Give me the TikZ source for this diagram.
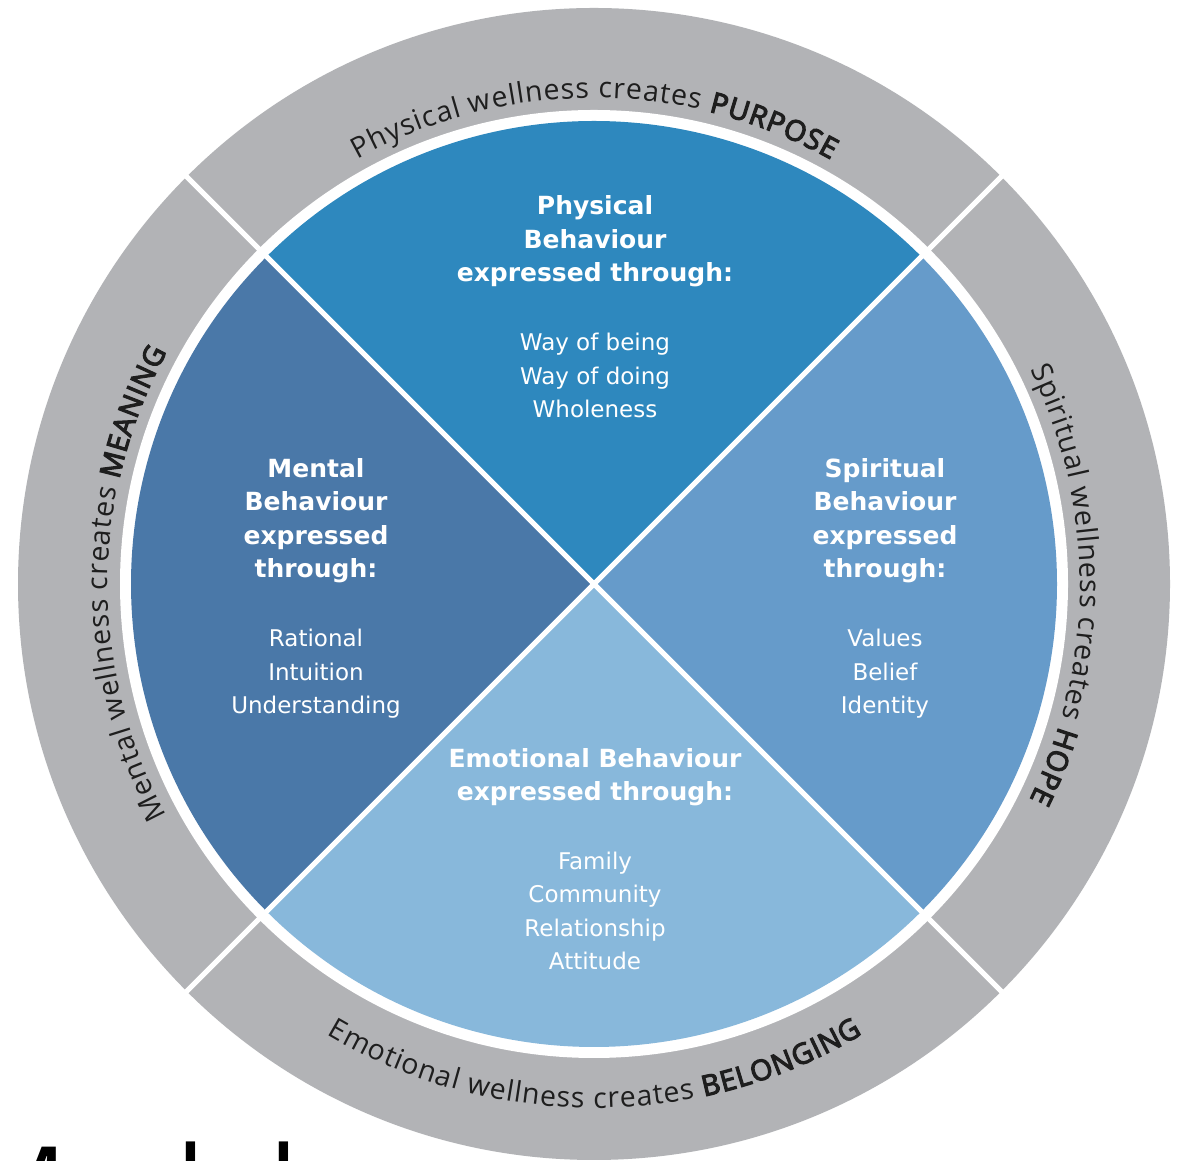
\documentclass[tikz,border=0pt]{standalone}
\usepackage{fontspec}
\setmainfont{Open Sans}
\newfontfamily\ringfont{Open Sans}
\newfontfamily\ringsemi[FakeBold=4]{Open Sans}
\newfontfamily\quadfont{DejaVu Sans}
\usetikzlibrary{decorations.text}
\definecolor{ringgrey}{HTML}{B2B3B6}
\definecolor{qtop}{HTML}{2E88BE}
\definecolor{qleft}{HTML}{4A78A8}
\definecolor{qright}{HTML}{669BCA}
\definecolor{qbottom}{HTML}{88B8DB}
\definecolor{ringtxt}{HTML}{1E1E1E}
\newcommand\ringreg{\ringfont\fontsize{28.5}{30}\selectfont\color{ringtxt}\kern0.9pt}
\newcommand\ringbold{\ringsemi\fontsize{28.5}{30}\selectfont\color{ringtxt}\kern0.9pt}
\begin{document}
\begin{tikzpicture}[x=1pt,y=1pt,
  titletext/.style={text=white, align=center, font=\quadfont\bfseries\fontsize{25}{33.6}\selectfont, anchor=base, inner sep=0pt},
  itemtext/.style={text=white, align=center, font=\quadfont\fontsize{23}{33.6}\selectfont, anchor=base, inner sep=0pt},
  sepline/.style={draw=white, line width=5pt},
  ringlabel/.style={decorate, decoration={text along path, text align=center, text={#1}}}
]
\useasboundingbox (0,0) rectangle (1183,1161);
\clip (0,0) rectangle (1183,1161);
\fill[white] (0,0) rectangle (1183,1161);
\coordinate (c) at (594,577);
% ring and disc
\fill[ringgrey] (c) circle[radius=576];
\fill[white] (c) circle[radius=474];
\fill[qtop] (c) -- ([shift={(45:463)}]c) arc[start angle=45, end angle=135, radius=463] -- cycle;
\fill[qleft] (c) -- ([shift={(135:463)}]c) arc[start angle=135, end angle=225, radius=463] -- cycle;
\fill[qbottom] (c) -- ([shift={(225:463)}]c) arc[start angle=225, end angle=315, radius=463] -- cycle;
\fill[qright] (c) -- ([shift={(315:463)}]c) arc[start angle=315, end angle=405, radius=463] -- cycle;
\foreach \a in {45,135,225,315} \draw[sepline] (c) -- ([shift={(\a:582)}]c);
% ring labels
\path[ringlabel={|\ringreg|Physical wellness creates |\ringbold|PURPOSE}]
  ([shift={(150:486)}]c) arc[start angle=150, end angle=30, radius=486];
\path[ringlabel={|\ringreg|Spiritual wellness creates |\ringbold|HOPE}]
  ([shift={(60:486)}]c) arc[start angle=60, end angle=-60, radius=486];
\path[ringlabel={|\ringreg|Mental wellness creates |\ringbold|MEANING}]
  ([shift={(240:486)}]c) arc[start angle=240, end angle=120, radius=486];
\path[ringlabel={|\ringreg|Emotional wellness creates |\ringbold|BELONGING}]
  ([shift={(210:524)}]c) arc[start angle=210, end angle=330, radius=524];
% quadrant texts (anchored at the baseline of their last line)
\node[titletext] (ptitle) at (595,879) {Physical\\Behaviour\\expressed through:};
\node[itemtext] (pitems) at (595,743) {Way of being\\Way of doing\\Wholeness};
\node[titletext] (mtitle) at (316,583) {Mental\\Behaviour\\expressed\\through:};
\node[itemtext] (mitems) at (316,447) {Rational\\Intuition\\Understanding};
\node[titletext] (stitle) at (885,583) {Spiritual\\Behaviour\\expressed\\through:};
\node[itemtext] (sitems) at (885,447) {Values\\Belief\\Identity};
\node[titletext] (etitle) at (595,360) {Emotional Behaviour\\expressed through:};
\node[itemtext] (eitems) at (595,191) {Family\\Community\\Relationship\\Attitude};
% cut-off heading
\node[font=\fontsize{114}{120}\selectfont, anchor=base west, inner sep=0pt] (model) at (-36,-68) {Model};
\end{tikzpicture}
\end{document}
